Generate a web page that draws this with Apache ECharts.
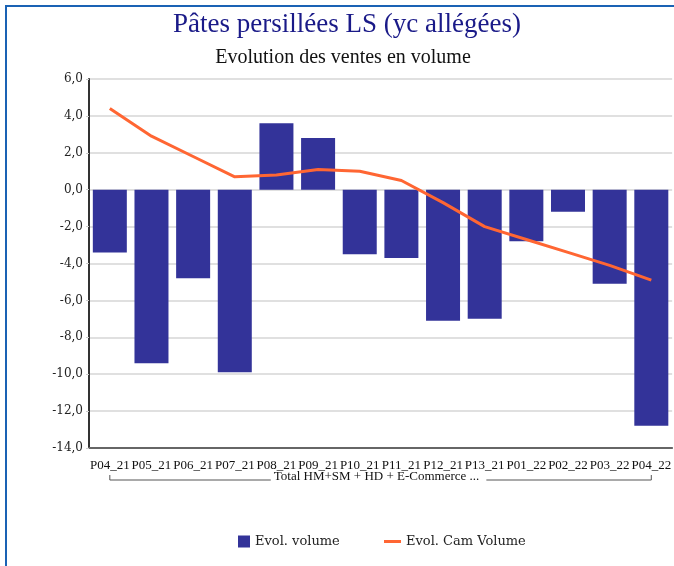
<!DOCTYPE html>
<html><head><meta charset="utf-8">
<script src="https://cdn.jsdelivr.net/npm/echarts@6/dist/echarts.min.js"></script>
<style>html,body{margin:0;padding:0;background:#fff;}#c{width:674px;height:566px;}</style>
</head><body><div id="c"></div>
<script>
var categories = ['P04_21','P05_21','P06_21','P07_21','P08_21','P09_21','P10_21','P11_21','P12_21','P13_21','P01_22','P02_22','P03_22','P04_22'];
var evolVolume = [-3.4, -9.4, -4.8, -9.9, 3.6, 2.8, -3.5, -3.7, -7.1, -7.0, -2.8, -1.2, -5.1, -12.8];
var evolCamVolume = [4.4, 2.9, 1.8, 0.7, 0.8, 1.1, 1.0, 0.5, -0.7, -2.0, -2.7, -3.4, -4.1, -4.9];
var groupLabel = 'Total HM+SM + HD + E-Commerce ...';
var titleText = 'Pâtes persillées LS (yc allégées)';
var subtitleText = 'Evolution des ventes en volume';

var chart = echarts.init(document.getElementById('c'));
var serif = '"Liberation Serif", serif';
var option = {
  animation: false,
  title: [
    {text: titleText, left: 342, textAlign: 'center', top: 6, textStyle: {fontFamily: serif, fontSize: 27, fontWeight: 'normal', color: '#1a1a88'}},
    {text: subtitleText, left: 338, textAlign: 'center', top: 43, textStyle: {fontFamily: serif, fontSize: 20, fontWeight: 'normal', color: '#111'}}
  ],
  legend: [
    {data: ['Evol. volume'], left: 233, top: 530, itemWidth: 12, itemHeight: 12, icon: 'rect', itemGap: 6,
     textStyle: {fontFamily: '"DejaVu Serif", serif', fontSize: 13, color: '#222'}},
    {data: ['Evol. Cam Volume'], left: 379, top: 530, itemWidth: 17, itemHeight: 3, icon: 'rect',
     textStyle: {fontFamily: '"DejaVu Serif", serif', fontSize: 13, color: '#222', lineHeight: 12}}
  ],
  grid: {left: 89, top: 79, width: 588, height: 369, containLabel: false},
  xAxis: {
    type: 'category', data: categories,
    axisLine: {onZero: false, lineStyle: {color: '#666', width: 2}},
    axisTick: {show: false},
    axisLabel: {interval: 0, margin: 11, fontFamily: serif, fontSize: 13, color: '#111'}
  },
  yAxis: {
    type: 'value', min: -14, max: 6, interval: 2,
    axisLine: {show: true, lineStyle: {color: '#333', width: 2}},
    axisTick: {show: true, length: 3, lineStyle: {color: '#ccc'}},
    splitLine: {lineStyle: {color: '#d6d6d6', width: 1.5}},
    axisLabel: {margin: 6, fontFamily: '"DejaVu Serif", serif', fontSize: 12, color: '#222',
      formatter: function(v){ return v.toFixed(1).replace('.', ','); }}
  },
  series: [
    {name: 'Evol. volume', type: 'bar', data: evolVolume, barWidth: 34,
     itemStyle: {color: '#333399'}},
    {name: 'Evol. Cam Volume', type: 'line', data: evolCamVolume, symbol: 'none', smooth: false,
     lineStyle: {color: '#ff6633', width: 3}, itemStyle: {color: '#ff6633'}}
  ]
};
chart.setOption(option);

var x0 = chart.convertToPixel({xAxisIndex: 0}, 0);
var x1 = chart.convertToPixel({xAxisIndex: 0}, categories.length - 1);
var yb = 480, yt = 475;
chart.setOption({
  graphic: [
    {type: 'rect', shape: {x: 6, y: 6, width: 700, height: 600}, style: {fill: 'none', stroke: '#1a62b4', lineWidth: 2}, silent: true, z: 100},
    {type: 'polyline', shape: {points: [[x0, yt], [x0, yb], [x1, yb], [x1, yt]]}, style: {stroke: '#555', lineWidth: 1, fill: 'none'}, silent: true},
    {type: 'text', x: (x0 + x1) / 2 - 2, y: 477, style: {text: groupLabel, fontFamily: serif, fontSize: 13, fill: '#111',
      align: 'center', verticalAlign: 'middle', backgroundColor: '#fff', padding: [0, 7, 0, 3]}, silent: true}
  ]
});
</script></body></html>
